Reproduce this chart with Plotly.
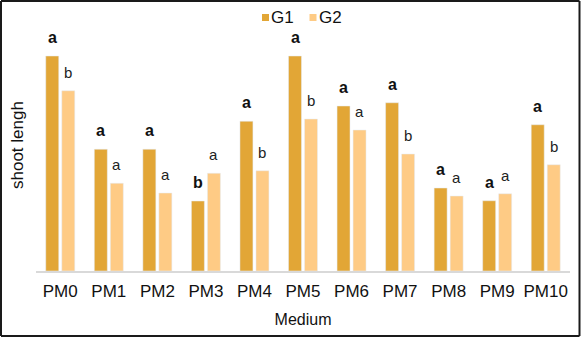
import plotly.graph_objects as go

categories = ["PM0", "PM1", "PM2", "PM3", "PM4", "PM5", "PM6", "PM7", "PM8", "PM9", "PM10"]
g1_values = [8.6, 4.87, 4.87, 2.8, 5.99, 8.6, 6.6, 6.73, 3.32, 2.81, 5.85]
g2_values = [7.21, 3.51, 3.12, 3.91, 4.01, 6.08, 5.64, 4.68, 3.0, 3.09, 4.25]
g1_letters = ["a", "a", "a", "b", "a", "a", "a", "a", "a", "a", "a"]
g2_letters = ["b", "a", "a", "a", "b", "b", "a", "b", "a", "a", "b"]
series_names = ["G1", "G2"]

G1_COLOR = "#E2A636"
G2_COLOR = "#FECB85"
FONT = "Liberation Sans, Arial, sans-serif"

W, H = 582, 338
ML, MR, MT, MB = 36, 12, 29, 67
PW, PH = W - ML - MR, H - MT - MB
YMAX = PH / 25.0


def px(xp):
    return (xp - ML) / PW


def py(yp):
    return (H - MB - yp) / PH


fig = go.Figure()
fig.add_trace(go.Bar(x=categories, y=g1_values, name=series_names[0], marker_color=G1_COLOR,
                     showlegend=False, hoverinfo="skip"))
fig.add_trace(go.Bar(x=categories, y=g2_values, name=series_names[1], marker_color=G2_COLOR,
                     showlegend=False, hoverinfo="skip"))

annotations = []
for c, v, t in zip(categories, g1_values, g1_letters):
    annotations.append(dict(x=c, y=v, xref="x", yref="y", text=t, showarrow=False,
                            xshift=-8, yshift=8, yanchor="bottom",
                            font=dict(family=FONT, size=16, color="#111111", weight="bold")))
for c, v, t in zip(categories, g2_values, g2_letters):
    annotations.append(dict(x=c, y=v, xref="x", yref="y", text=t, showarrow=False,
                            xshift=8, yshift=8, yanchor="bottom",
                            font=dict(family=FONT, size=15, color="#222222")))

# legend drawn manually (small squares hugging the labels)
shapes = []
for name, color, sq_x, tx in [(series_names[0], G1_COLOR, 262, 269), (series_names[1], G2_COLOR, 309.5, 316.5)]:
    shapes.append(dict(type="rect", xref="paper", yref="paper",
                       x0=px(sq_x), x1=px(sq_x + 7), y0=py(21), y1=py(14),
                       fillcolor=color, line=dict(width=0), layer="above"))
    annotations.append(dict(x=px(tx), y=py(17.2), xref="paper", yref="paper", text=name,
                            showarrow=False, xanchor="left", yanchor="middle",
                            font=dict(family=FONT, size=17, color="#111111")))

# y-axis title
annotations.append(dict(x=px(17), y=py(145), xref="paper", yref="paper", text="shoot lengh",
                        showarrow=False, textangle=-90, xanchor="center", yanchor="middle",
                        font=dict(family=FONT, size=17, color="#111111")))

# outer border
for (x0, y0, x1, y1) in [(1, 1, 579.5, 1), (1, 336, 579.5, 336), (1, 1, 1, 336), (579.5, 1, 579.5, 336)]:
    shapes.append(dict(type="line", xref="paper", yref="paper",
                       x0=px(x0), x1=px(x1), y0=py(y0), y1=py(y1),
                       line=dict(color="#1a1a1a", width=2), layer="above"))

fig.update_layout(
    width=W, height=H,
    margin=dict(l=ML, r=MR, t=MT, b=MB, autoexpand=False),
    paper_bgcolor="white", plot_bgcolor="white",
    barmode="group", bargap=0.34, bargroupgap=0.19,
    font=dict(family=FONT, color="#111111"),
    showlegend=False,
    xaxis=dict(showline=True, linecolor="#D9D9D9", linewidth=2, ticks="outside",
               ticklen=4, tickcolor="rgba(0,0,0,0)", showgrid=False,
               tickfont=dict(size=17, color="#111111"),
               title=dict(text="Medium", font=dict(size=16, color="#111111"), standoff=13)),
    yaxis=dict(range=[0, YMAX], showgrid=False, showticklabels=False, zeroline=False,
               showline=False, ticks=""),
    annotations=annotations,
    shapes=shapes,
)

fig.write_html("out.html")
